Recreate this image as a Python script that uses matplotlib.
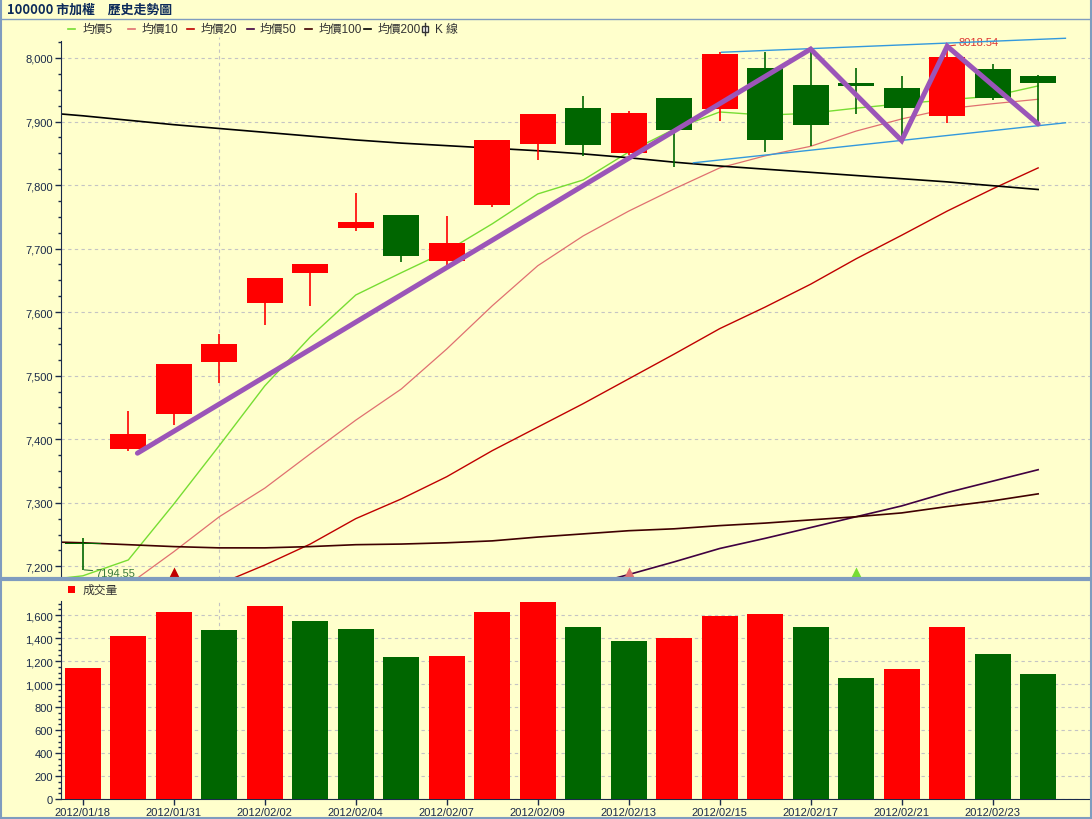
import numpy as np
import matplotlib
matplotlib.use("Agg")
import matplotlib.pyplot as plt
from matplotlib.lines import Line2D
from matplotlib.patches import Rectangle
from matplotlib.ticker import MultipleLocator, FuncFormatter

plt.rcParams['font.family'] = ['Liberation Sans', 'Noto Sans CJK TC', 'DejaVu Sans']

# 日期 (交易日)
dates = ["2012/01/18", "2012/01/30", "2012/01/31", "2012/02/01", "2012/02/02", "2012/02/03",
         "2012/02/04", "2012/02/06", "2012/02/07", "2012/02/08", "2012/02/09", "2012/02/10",
         "2012/02/13", "2012/02/14", "2012/02/15", "2012/02/16", "2012/02/17", "2012/02/20",
         "2012/02/21", "2012/02/22", "2012/02/23", "2012/02/24"]

# K線 (開高低收)
open_ = [7237, 7384, 7439, 7522, 7615, 7661, 7733, 7753, 7681, 7768, 7865,
         7922, 7851, 7937, 7920, 7984, 7958, 7961, 7953, 7909, 7983, 7972]
high = [7244, 7444, 7519, 7566, 7654, 7676, 7788, 7753, 7751, 7871, 7912,
        7940, 7917, 7937, 8010, 8010, 8012, 7984, 7972, 8018.54, 7991, 7973]
low = [7194.55, 7382, 7422, 7489, 7579, 7609, 7727, 7679, 7668, 7766, 7840,
       7846, 7848, 7829, 7901, 7852, 7862, 7912, 7870, 7897, 7934, 7896]
close = [7235, 7408, 7519, 7550, 7654, 7676, 7742, 7689, 7709, 7871, 7912,
         7863, 7913, 7886, 8006, 7871, 7895, 7956, 7922, 8002, 7937, 7960]

# 成交量 (1=紅, 0=綠)
volume = [1139, 1417, 1626, 1470, 1678, 1548, 1478, 1235, 1243, 1626, 1713,
          1496, 1374, 1403, 1591, 1609, 1496, 1052, 1130, 1496, 1261, 1087]
vol_up = [1, 1, 1, 0, 1, 0, 0, 0, 1, 1, 1, 0, 0, 1, 1, 1, 0, 0, 1, 1, 0, 0]

# 均線 (第一個值是畫面左邊前一個交易日)
nan = np.nan
ma5 = [7177, 7185, 7210, 7298, 7390, 7484, 7561, 7627, 7662, 7696, 7739, 7786,
       7808, 7852, 7888, 7915, 7910, 7913, 7921, 7928, 7934, 7940, 7956]
ma10 = [nan, nan, 7171, 7223, 7278, 7323, 7377, 7430, 7479, 7542, 7610, 7673,
        7720, 7759, 7794, 7827, 7846, 7861, 7885, 7904, 7920, 7928, 7935]
ma20 = [nan, nan, nan, nan, 7172, 7202, 7235, 7275, 7306, 7341, 7382, 7419,
        7456, 7495, 7534, 7574, 7608, 7644, 7684, 7721, 7759, 7794, 7827]
ma50 = [nan, nan, nan, nan, nan, nan, nan, nan, nan, nan, nan, nan,
        7168, 7187, 7207, 7228, 7244, 7261, 7278, 7295, 7316, 7334, 7352]
ma100 = [7239, 7237, 7234, 7231, 7229, 7229, 7231, 7234, 7235, 7237, 7240, 7246,
         7251, 7256, 7259, 7264, 7268, 7273, 7278, 7284, 7294, 7303, 7314]
ma200 = [7915, 7909, 7902, 7895, 7889, 7883, 7877, 7871, 7866, 7862, 7858, 7854,
         7849, 7843, 7836, 7830, 7825, 7820, 7815, 7810, 7805, 7799, 7793]

# 訊號三角形
signal_idx = [2, 12, 17]
signal_ma = ["均價20", "均價10", "均價5"]

# 手繪趨勢線
zig_x = [1.2, 16, 18, 19, 21]
zig_y = [7378, 8014, 7870, 8018.54, 7896]
chan_top_x = [14.04, 21.6]
chan_top_y = [8009, 8031]
chan_bot_x = [13.42, 21.6]
chan_bot_y = [7835, 7898]

BG = "#ffffcc"
RED = "#ff0000"
GREEN = "#006600"
NAVY = "#1a2a4a"
GRID = "#c4c4c4"
FRAME = "#7f9cbf"

W, H = 1092, 820
fx = lambda px: px / W
fy = lambda py: 1 - py / H

fig = plt.figure(figsize=(W / 100, H / 100), dpi=100, facecolor=BG)
ax = fig.add_axes([fx(61), fy(580), fx(1090) - fx(61), fy(38) - fy(580)])
axv = fig.add_axes([fx(61), fy(800), fx(1090) - fx(61), fy(602) - fy(800)])

n = len(dates)
x = np.arange(n)
ma_x = np.arange(-1, n)
xlim = (-0.48, 22.14)

# 均線
mas = [("均價5", ma5, "#77dd33", 1.0), ("均價10", ma10, "#e07070", 0.9),
       ("均價20", ma20, "#c00000", 1.0), ("均價50", ma50, "#400040", 1.2),
       ("均價100", ma100, "#400000", 1.2), ("均價200", ma200, "#000000", 1.2)]
ma_color = {}
for name, vals, c, lw in mas:
    ax.plot(ma_x, vals, color=c, lw=lw, zorder=2)
    ma_color[name] = c

# K線
o = np.array(open_); cl = np.array(close)
cc = [RED if c_ >= o_ else GREEN for o_, c_ in zip(open_, close)]
ax.vlines(x, low, high, colors=cc, lw=1.2, zorder=3)
ax.bar(x, cl - o, bottom=o, width=0.785, color=cc, zorder=4)

# 趨勢線
ax.plot(chan_top_x, chan_top_y, color="#3399dd", lw=1, zorder=5)
ax.plot(chan_bot_x, chan_bot_y, color="#3399dd", lw=1, zorder=5)
ax.plot(zig_x, zig_y, color="#9b55b8", lw=3.6, solid_capstyle="round",
        solid_joinstyle="miter", zorder=6)

# 訊號
for i, m in zip(signal_idx, signal_ma):
    ax.plot(i, 0.011, marker="^", ms=8, color=ma_color[m], mec="none",
            transform=ax.get_xaxis_transform(), zorder=7, clip_on=False)

# 最低/最高標示
lo_i = int(np.argmin(low)); hi_i = int(np.argmax(high))
ax.annotate(f"{low[lo_i]:.2f}", xy=(lo_i, low[lo_i]), xytext=(9, -2),
            textcoords="offset points", va="center", fontsize=8, color="#3a7a3a",
            arrowprops=dict(arrowstyle="-", color="#3a7a3a", lw=0.8, shrinkA=0, shrinkB=1))
ax.annotate(f"{high[hi_i]:.2f}", xy=(hi_i, high[hi_i]), xytext=(8, 3),
            textcoords="offset points", va="center", fontsize=8, color="#dd3333",
            arrowprops=dict(arrowstyle="-", color="#dd3333", lw=0.8, shrinkA=0, shrinkB=1))

# 成交量
axv.bar(x, volume, width=0.785, color=[RED if u else GREEN for u in vol_up], zorder=3)

# 月份分隔線
month_start = [i for i in range(1, n) if dates[i][5:7] != dates[i - 1][5:7]]

comma = FuncFormatter(lambda v, p: f"{v:,.0f}")
for a in (ax, axv):
    a.set_facecolor(BG)
    a.set_xlim(*xlim)
    a.set_axisbelow(True)
    a.yaxis.grid(True, ls=(0, (3, 3)), color=GRID, lw=0.8)
    for i in month_start:
        a.axvline(i, ls=(0, (3, 3)), color=GRID, lw=0.8, zorder=0)
    a.spines["top"].set_visible(False)
    a.spines["right"].set_visible(False)
    a.spines["left"].set_color(NAVY)
    a.spines["bottom"].set_color(NAVY)
    a.yaxis.set_major_formatter(comma)
    a.tick_params(which="major", colors=NAVY, labelsize=8, length=4, width=1, pad=2)
    a.tick_params(which="minor", colors=NAVY, length=2, width=1)

ax.set_ylim(7180, 8033)
ax.spines["left"].set_bounds(7180, 8027)
ax.yaxis.set_major_locator(MultipleLocator(100))
ax.yaxis.set_minor_locator(MultipleLocator(25))
ax.spines["bottom"].set_visible(False)
ax.tick_params(axis="x", bottom=False, labelbottom=False)

axv.set_ylim(0, 1722)
axv.yaxis.set_major_locator(MultipleLocator(200))
axv.yaxis.set_minor_locator(MultipleLocator(50))
axv.set_xticks(x[::2])
axv.set_xticklabels(dates[::2])

# 標題與框線
fig.text(fx(7), fy(10), "100000 市加權\u3000歷史走勢圖", fontsize=9.3, weight="bold",
         color="#0c2a5a", va="center", family=["Noto Sans CJK TC", "DejaVu Sans"])
for y_, lw in ((20, 1), (579.5, 3), (818.5, 1.5)):
    fig.add_artist(Line2D([0, 1], [fy(y_), fy(y_)], color=FRAME, lw=lw))
for x_ in (0.5, 1090.5):
    fig.add_artist(Line2D([fx(x_), fx(x_)], [0, 1], color=FRAME, lw=1.5))

# 圖例
leg_y = fy(30)
leg_pos = [(68, 83), (128, 142), (187, 201), (247, 260), (305, 319), (364, 378)]
for (name, vals, c, lw), (dx, tx) in zip(mas, leg_pos):
    fig.add_artist(Line2D([fx(dx), fx(dx + 7)], [leg_y, leg_y], color=c, lw=1.2))
    fig.text(fx(tx), leg_y, name, fontsize=8.5, color="#333333", va="center")
fig.add_artist(Line2D([fx(425), fx(425)], [fy(24), fy(36)], color="#333333", lw=1))
fig.add_artist(Rectangle((fx(422), fy(33)), fx(6), fy(27) - fy(33), facecolor="white",
                         edgecolor="#333333", lw=1, transform=fig.transFigure))
fig.text(fx(435), leg_y, "K 線", fontsize=8.5, color="#333333", va="center")

fig.add_artist(Rectangle((fx(68), fy(594)), fx(7), fy(587) - fy(594), facecolor=RED,
                         edgecolor="none", transform=fig.transFigure))
fig.text(fx(83), fy(591), "成交量", fontsize=8.5, color="#333333", va="center")

fig.savefig("out.png", dpi=100, facecolor=BG)
